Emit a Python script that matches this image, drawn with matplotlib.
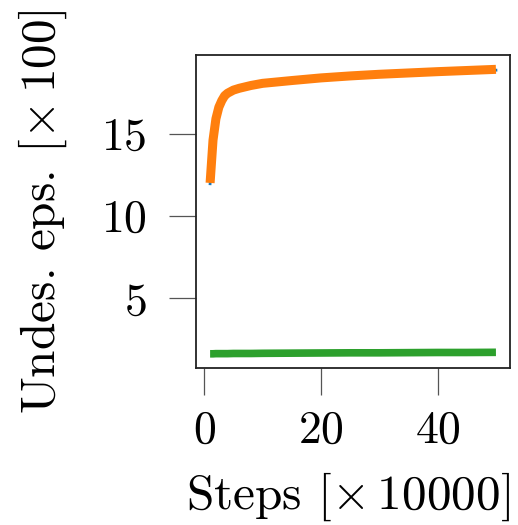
import matplotlib
matplotlib.use("Agg")
import matplotlib.pyplot as plt
import numpy as np

steps = [1, 1.5, 2, 2.5, 3, 3.5, 4, 5, 6, 8, 10, 15, 20, 25, 30, 35, 40, 45, 50]
orange = [12.0, 14.6, 15.9, 16.6, 17.0, 17.3, 17.45, 17.64, 17.75, 17.92, 18.05, 18.22, 18.38, 18.5, 18.6, 18.68, 18.76, 18.83, 18.9]
blue = [11.95, 14.5, 15.8, 16.5, 16.9, 17.2, 17.35, 17.55, 17.66, 17.83, 17.95, 18.13, 18.3, 18.43, 18.53, 18.62, 18.7, 18.77, 18.85]
green = [1.62, 1.62, 1.63, 1.63, 1.63, 1.63, 1.63, 1.64, 1.64, 1.64, 1.65, 1.66, 1.67, 1.68, 1.68, 1.69, 1.7, 1.7, 1.71]

plt.rcParams['font.family'] = 'serif'
plt.rcParams['font.serif'] = ['cmr10']
plt.rcParams['mathtext.fontset'] = 'cm'
plt.rcParams['axes.formatter.use_mathtext'] = True
plt.rcParams['font.size'] = 33

fig = plt.figure(figsize=(5.18, 5.25), dpi=100)
ax = fig.add_axes([0.378, 0.299, 0.607, 0.596])
ax.plot(steps, blue, color='#1f77b4', lw=2.0, zorder=2)
ax.plot(steps, orange, color='#ff7f0e', lw=6.5, zorder=3, solid_capstyle='butt')
ax.plot(steps, green, color='#2ca02c', lw=5.5, zorder=3, solid_capstyle='butt')

ax.set_yticks([5, 10, 15])
ax.set_xticks([0, 20, 40])
ax.tick_params(length=19.5, width=0.9, color='#555555')
ax.tick_params(axis='x', pad=11)
ax.tick_params(axis='y', pad=16)
for s in ax.spines.values():
    s.set_linewidth(1.3)
    s.set_color('#222222')
ax.set_ylabel(r'Undes. eps. [$\times\,100$]', fontsize=35.5, labelpad=23)
ax.set_xlabel(r'Steps [$\times\,10000$]', fontsize=35.5, labelpad=13)
ax.xaxis.label.set_x(0.484)
fig.savefig('out.png', dpi=100)
